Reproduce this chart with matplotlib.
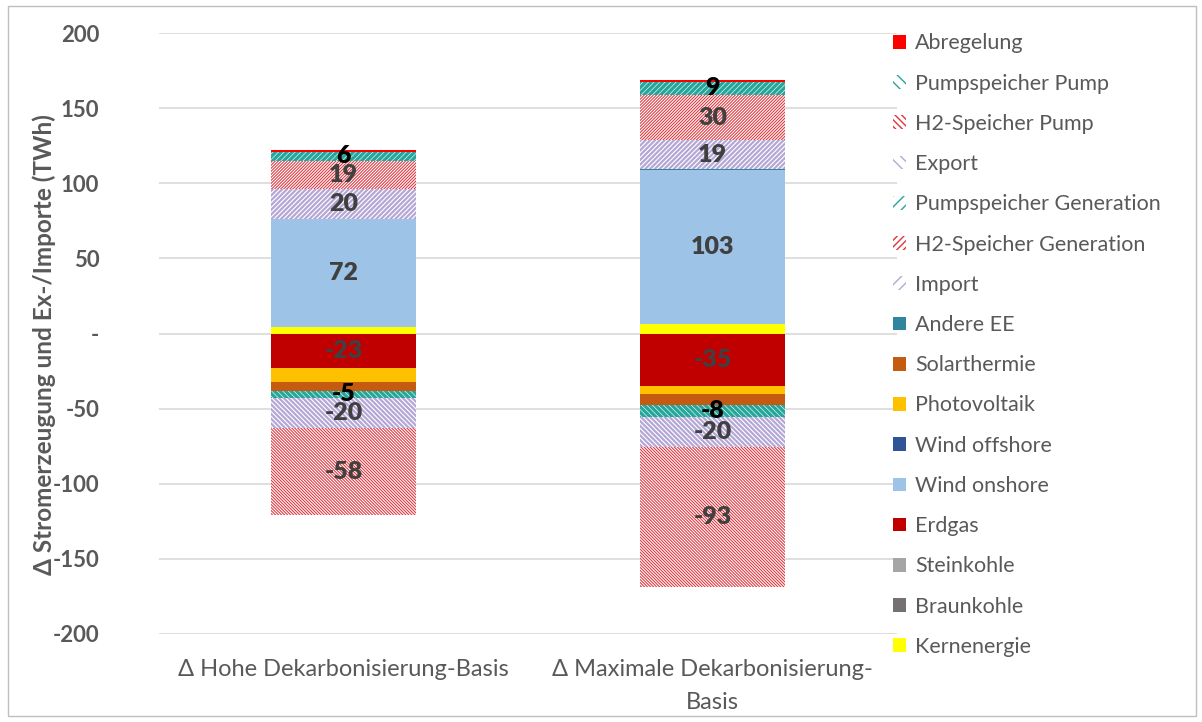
import matplotlib
matplotlib.use("Agg")
import matplotlib.pyplot as plt
from matplotlib.patches import Patch, Rectangle
import numpy as np

plt.rcParams['font.family'] = ['Lato', 'DejaVu Sans']

categories = ["Δ Hohe Dekarbonisierung-Basis", "Δ Maximale Dekarbonisierung-\nBasis"]

kernenergie = [4, 6]
braunkohle = [0, 0]
steinkohle = [0, 0]
erdgas = [-23, -35]
wind_onshore = [72, 103]
wind_offshore = [0, 0]
photovoltaik = [-9.5, -5.5]
solarthermie = [-5.5, -7.3]
andere_ee = [0, 0.6]
import_ = [20, 19]
h2_gen = [19, 30]
ps_gen = [6, 9]
export = [-20, -20]
h2_pump = [-58, -93]
ps_pump = [-5, -8]
abregelung = [1.2, 1.2]

# (name, values, color, hatch, hatch linewidth, label?, label color)
series = [
    ("Kernenergie", kernenergie, "#ffff00", None, 0, False, None),
    ("Braunkohle", braunkohle, "#767171", None, 0, False, None),
    ("Steinkohle", steinkohle, "#a5a5a5", None, 0, False, None),
    ("Erdgas", erdgas, "#c00000", None, 0, True, "#404040"),
    ("Wind onshore", wind_onshore, "#9dc3e6", None, 0, True, "#404040"),
    ("Wind offshore", wind_offshore, "#2f5597", None, 0, False, None),
    ("Photovoltaik", photovoltaik, "#ffc000", None, 0, False, None),
    ("Solarthermie", solarthermie, "#c55a11", None, 0, False, None),
    ("Andere EE", andere_ee, "#31859c", None, 0, False, None),
    ("Import", import_, "#b4a7d6", "/" * 7, 1.6, True, "#404040"),
    ("H2-Speicher Generation", h2_gen, "#e0343c", "/" * 11, 0.75, True, "#404040"),
    ("Pumpspeicher Generation", ps_gen, "#26a69a", "/" * 6, 2.4, True, "#000000"),
    ("Pumpspeicher Pump", ps_pump, "#26a69a", "\\" * 6, 2.4, True, "#000000"),
    ("Export", export, "#b4a7d6", "\\" * 7, 1.6, True, "#404040"),
    ("H2-Speicher Pump", h2_pump, "#e0343c", "\\" * 11, 0.75, True, "#404040"),
    ("Abregelung", abregelung, "#ff0000", None, 0, False, None),
]

legend_order = ["Abregelung", "Pumpspeicher Pump", "H2-Speicher Pump", "Export",
                "Pumpspeicher Generation", "H2-Speicher Generation", "Import",
                "Andere EE", "Solarthermie", "Photovoltaik", "Wind offshore",
                "Wind onshore", "Erdgas", "Steinkohle", "Braunkohle", "Kernenergie"]

fig = plt.figure(figsize=(12.02, 7.22), dpi=100)
ax = fig.add_axes([159/1202, 1-634/722, (897-159)/1202, (634-33)/722])

x = np.arange(len(categories))
width = 0.395
pos = np.zeros(len(categories))
neg = np.zeros(len(categories))
handles = {}
gray = "#595959"

for name, vals, color, hatch, hlw, lab, lc in series:
    vals = np.array(vals, dtype=float)
    bottoms = np.where(vals >= 0, pos, neg)
    if hatch:
        with plt.rc_context({'hatch.linewidth': hlw}):
            ax.bar(x, vals, width, bottom=bottoms, facecolor="white",
                   edgecolor=color, hatch=hatch, linewidth=0, zorder=3)
            h = Patch(facecolor="white", edgecolor=color, hatch=hatch[:max(2, len(hatch) // 2)],
                      linewidth=0)
    else:
        ax.bar(x, vals, width, bottom=bottoms, color=color, linewidth=0, zorder=3)
        h = Patch(facecolor=color, edgecolor=color, linewidth=0)
    handles[name] = h
    if lab:
        for i, v in enumerate(vals):
            if v != 0:
                ax.text(x[i], bottoms[i] + v / 2, f"{v:.0f}", ha="center", va="center",
                        fontsize=18, fontweight="heavy", color=lc, zorder=5)
    pos = np.where(vals >= 0, pos + vals, pos)
    neg = np.where(vals < 0, neg + vals, neg)

ax.set_xlim(-0.5, 1.5)
ax.set_ylim(-200, 200)
yt = np.arange(-200, 201, 50)
ax.set_yticks(yt)
ax.set_yticklabels(["-" if v == 0 else str(v) for v in yt], fontsize=16,
                   fontweight="bold", color=gray)
ax.set_xticks(x)
ax.set_xticklabels(categories, fontsize=17, color=gray, linespacing=1.7)
ax.tick_params(axis="x", length=0, pad=18)
ax.tick_params(axis="y", length=0, pad=43)
ax.grid(axis="y", color="#d9d9d9", linewidth=1.2, zorder=0)
ax.set_axisbelow(True)
for s in ax.spines.values():
    s.set_visible(False)
ax.set_ylabel("Δ Stromerzeugung und Ex-/Importe (TWh)", fontsize=17.5,
              fontweight="bold", color=gray)
ax.yaxis.set_label_coords((56 - 159) / 738, (634 - 345) / 601)

leg = fig.legend([handles[n] for n in legend_order], legend_order,
                 loc="upper left", bbox_to_anchor=(874/1202, 1-14/722),
                 frameon=False, fontsize=15.5, labelcolor=gray,
                 handlelength=0.6, handleheight=0.6, handletextpad=0.4,
                 labelspacing=0.94)

fig.patches.append(Rectangle((8/1202, 6/722), 1188/1202, 710/722, transform=fig.transFigure,
                             fill=False, edgecolor="#bfbfbf", linewidth=1))

fig.savefig("out.png", dpi=100)
